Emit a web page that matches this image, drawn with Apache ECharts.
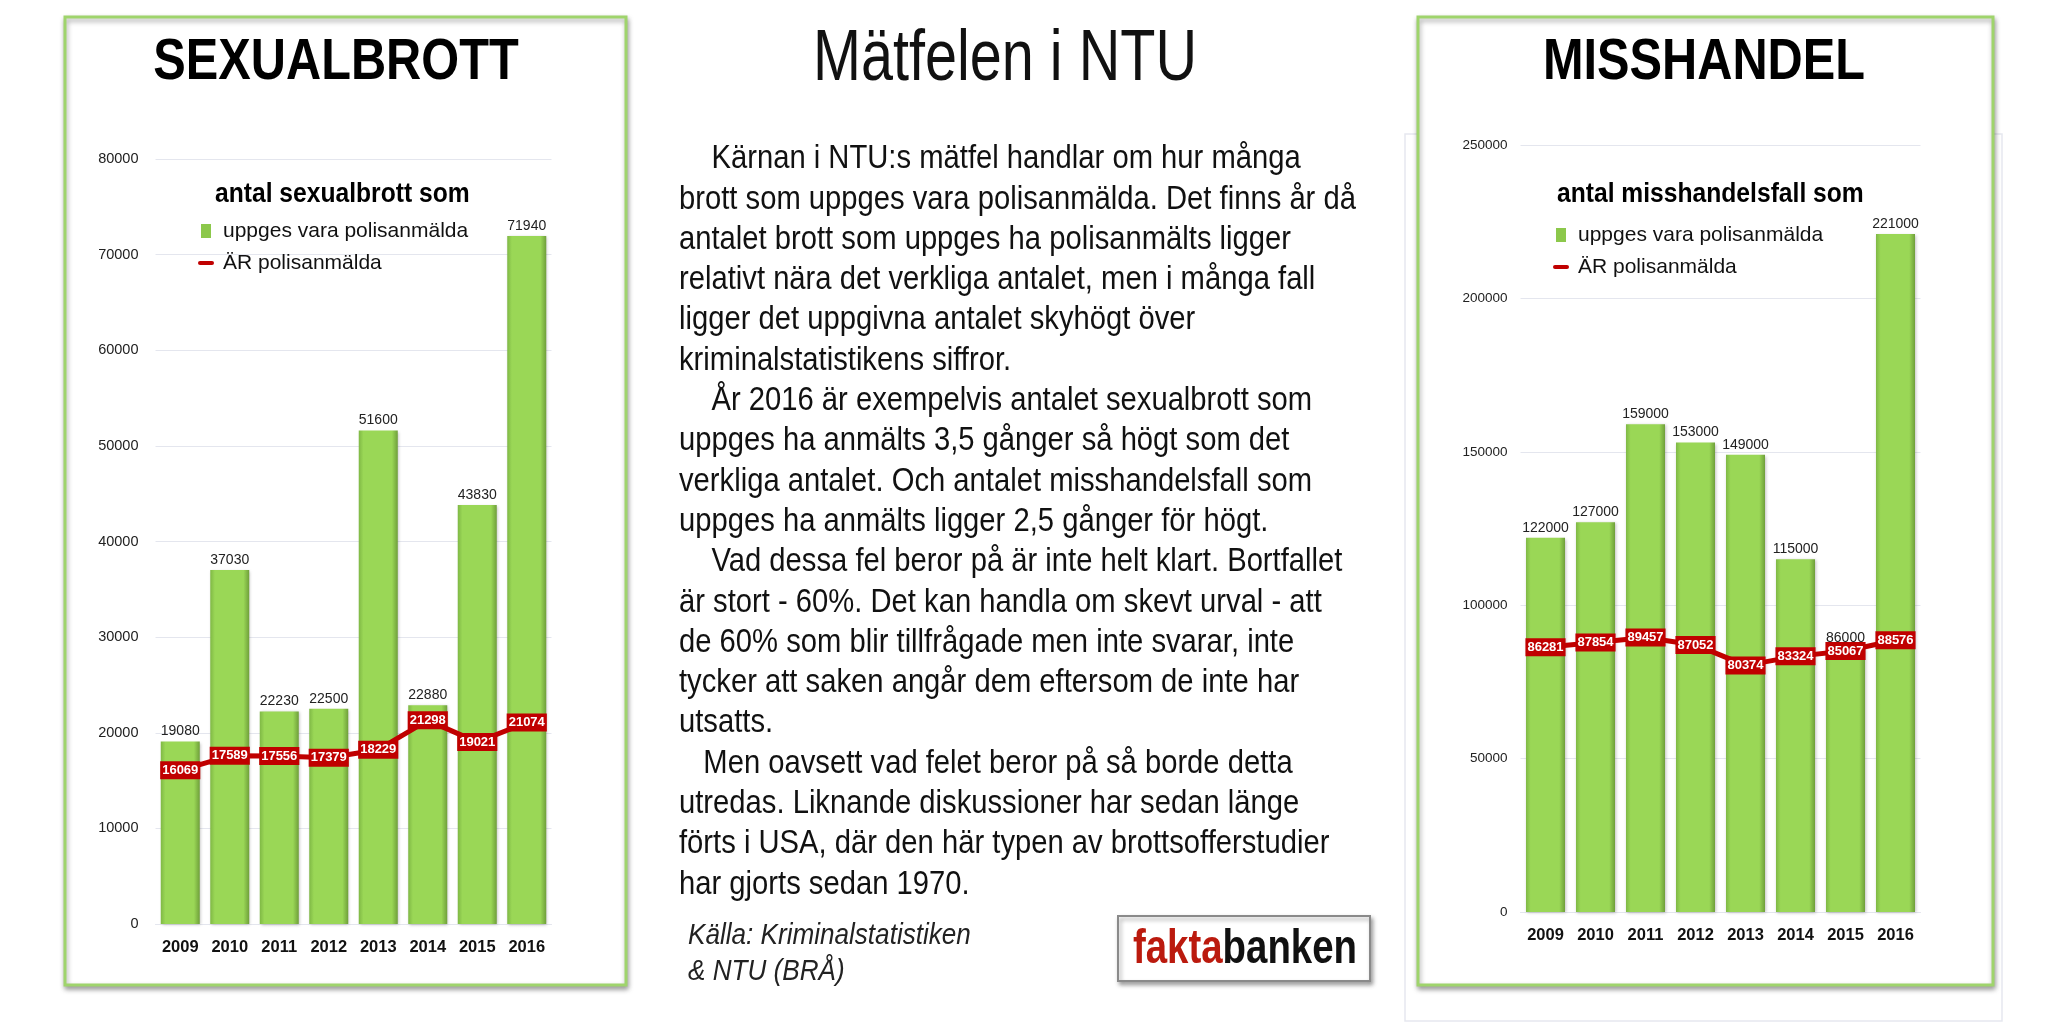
<!DOCTYPE html>
<html>
<head>
<meta charset="utf-8">
<script src="https://cdn.jsdelivr.net/npm/echarts@6/dist/echarts.min.js"></script>
<style>
html,body{margin:0;padding:0;background:#fff;}
#c{width:2048px;height:1028px;}
</style>
</head>
<body>
<div id="c"></div>
<script>
// ---- data ----
const years = ['2009','2010','2011','2012','2013','2014','2015','2016'];
const sexReported = [19080, 37030, 22230, 22500, 51600, 22880, 43830, 71940];
const sexActual = [16069, 17589, 17556, 17379, 18229, 21298, 19021, 21074];
const assaultReported = [122000, 127000, 159000, 153000, 149000, 115000, 86000, 221000];
const assaultActual = [86281, 87854, 89457, 87052, 80374, 83324, 85067, 88576];
const seriesNames = ['uppges vara polisanmälda', 'ÄR polisanmälda'];
const panelTitles = ['SEXUALBROTT', 'MISSHANDEL'];
const legendTitles = ['antal sexualbrott som', 'antal misshandelsfall som'];
const mainTitle = 'Mätfelen i NTU';
const bodyLines = [
  '    Kärnan i NTU:s mätfel handlar om hur många',
  'brott som uppges vara polisanmälda. Det finns år då',
  'antalet brott som uppges ha polisanmälts ligger',
  'relativt nära det verkliga antalet, men i många fall',
  'ligger det uppgivna antalet skyhögt över',
  'kriminalstatistikens siffror.',
  '    År 2016 är exempelvis antalet sexualbrott som',
  'uppges ha anmälts 3,5 gånger så högt som det',
  'verkliga antalet. Och antalet misshandelsfall som',
  'uppges ha anmälts ligger 2,5 gånger för högt.',
  '    Vad dessa fel beror på är inte helt klart. Bortfallet',
  'är stort - 60%. Det kan handla om skevt urval - att',
  'de 60% som blir tillfrågade men inte svarar, inte',
  'tycker att saken angår dem eftersom de inte har',
  'utsatts.',
  '   Men oavsett vad felet beror på så borde detta',
  'utredas. Liknande diskussioner har sedan länge',
  'förts i USA, där den här typen av brottsofferstudier',
  'har gjorts sedan 1970.'
];
const sourceLines = ['Källa: Kriminalstatistiken', '& NTU (BRÅ)'];

// ---- style ----
const SANS = "'Liberation Sans', Arial, sans-serif";
const RED = '#c00000';
const frameGreen = '#9fd46c';
const barGrad = new echarts.graphic.LinearGradient(0, 0, 1, 0, [
  {offset: 0, color: '#7fb845'},
  {offset: 0.12, color: '#9ad756'},
  {offset: 0.85, color: '#9ad756'},
  {offset: 1, color: '#6f9f3a'}
]);

const chart = echarts.init(document.getElementById('c'), null, {renderer: 'canvas'});

function yAxisCfg(gridIndex, max, interval, fs, margin) {
  return {
    type: 'value', gridIndex, min: 0, max, interval,
    axisLine: {show: false}, axisTick: {show: false},
    splitLine: {lineStyle: {color: '#e4e6ee', width: 1}},
    axisLabel: {fontFamily: SANS, fontSize: fs, color: '#222', margin, formatter: v => String(v)}
  };
}
function xAxisCfg(gridIndex) {
  return {
    type: 'category', gridIndex, data: years,
    axisLine: {lineStyle: {color: '#e4e6ee'}}, axisTick: {show: false},
    axisLabel: {interval: 0, fontFamily: SANS, fontWeight: 'bold', fontSize: 16.5, color: '#111', margin: 15}
  };
}
function barSeries(idx, data) {
  return {
    type: 'bar', name: seriesNames[0], xAxisIndex: idx, yAxisIndex: idx, data,
    barWidth: 39,
    itemStyle: {color: barGrad, shadowBlur: 3, shadowColor: 'rgba(0,0,0,0.25)', shadowOffsetX: 1, shadowOffsetY: 1},
    label: {show: true, position: 'top', distance: 3, fontFamily: SANS, fontSize: 14, color: '#222'}
  };
}
function lineSeries(idx, data) {
  return {
    type: 'line', name: seriesNames[1], xAxisIndex: idx, yAxisIndex: idx, data,
    symbol: 'circle', symbolSize: 2, z: 5,
    itemStyle: {color: RED},
    lineStyle: {color: RED, width: 5},
    label: {
      show: true, position: 'inside', fontFamily: SANS, fontWeight: 'bold', fontSize: 13,
      color: '#fff', backgroundColor: RED, padding: [3, 2, 2, 2]
    }
  };
}
function legendCfg(left, top) {
  return {
    left, top, orient: 'vertical', itemWidth: 16, itemHeight: 14, itemGap: 8,
    textStyle: {fontFamily: SANS, fontSize: 21, lineHeight: 24, color: '#111', padding: [0, 0, 0, 4]},
    data: [
      {name: seriesNames[0], icon: 'path://M0,0h10v14h-10z', itemStyle: {color: '#8cc84b'}},
      {name: seriesNames[1], icon: 'path://M2,0h12a2,2 0 0 1 0,4h-12a2,2 0 0 1 0,-4z', itemStyle: {color: RED}}
    ],
    selectedMode: false
  };
}
function frame(x, y, w, h) {
  return {
    type: 'rect', shape: {x, y, width: w, height: h}, z: -10,
    style: {fill: '#fff', stroke: frameGreen, lineWidth: 3, shadowBlur: 5, shadowColor: 'rgba(0,0,0,0.35)', shadowOffsetX: 1, shadowOffsetY: 3}
  };
}
function text(x, y, sx, str, opts) {
  return {type: 'text', x, y, scaleX: sx, z: 10, style: Object.assign({text: str, fill: '#000', fontFamily: SANS}, opts)};
}

const option = {
  animation: false,
  backgroundColor: '#fff',
  grid: [
    {left: 155.5, top: 159, width: 396, height: 765},
    {left: 1520.5, top: 145, width: 400, height: 767}
  ],
  xAxis: [xAxisCfg(0), xAxisCfg(1)],
  yAxis: [yAxisCfg(0, 80000, 10000, 14.5, 17), yAxisCfg(1, 250000, 50000, 13.5, 13)],
  legend: [legendCfg(193, 214), legendCfg(1548, 218)],
  series: [
    barSeries(0, sexReported), lineSeries(0, sexActual),
    barSeries(1, assaultReported), lineSeries(1, assaultActual)
  ],
  graphic: [
    {type: 'rect', shape: {x: 1405, y: 134, width: 597, height: 887}, z: -20,
     style: {fill: '#fff', stroke: '#e6e8ef', lineWidth: 1.5}},
    frame(65, 17, 561, 968),
    frame(1418, 17, 575, 968),
    text(336, 63, 0.84, panelTitles[0], {fontSize: 58, fontWeight: 'bold', align: 'center', verticalAlign: 'middle'}),
    text(1704, 63, 0.84, panelTitles[1], {fontSize: 58, fontWeight: 'bold', align: 'center', verticalAlign: 'middle'}),
    text(215, 194, 0.88, legendTitles[0], {fontSize: 28, fontWeight: 'bold', align: 'left', verticalAlign: 'middle'}),
    text(1557, 194, 0.88, legendTitles[1], {fontSize: 28, fontWeight: 'bold', align: 'left', verticalAlign: 'middle'}),
    text(1005, 60, 0.80, mainTitle, {fontSize: 72, align: 'center', verticalAlign: 'middle', fill: '#111'}),
    text(679, 139, 0.885, bodyLines.join('\n'), {fontSize: 33, lineHeight: 40.3, align: 'left', verticalAlign: 'top', fill: '#111'}),
    text(688, 918, 0.9, sourceLines.join('\n'), {fontSize: 29, lineHeight: 36, fontStyle: 'italic', align: 'left', verticalAlign: 'top', fill: '#222'}),
    {type: 'rect', shape: {x: 1118, y: 916, width: 252, height: 65}, z: 5,
     style: {fill: '#fff', stroke: '#8a8a8a', lineWidth: 2, shadowBlur: 4, shadowColor: 'rgba(0,0,0,0.35)', shadowOffsetX: 2, shadowOffsetY: 3}},
    {type: 'text', x: 1245, y: 950, scaleX: 0.8, z: 10, style: {
      text: '{a|fakta}{b|banken}', align: 'center', verticalAlign: 'middle',
      rich: {
        a: {fontFamily: SANS, fontSize: 48, fontWeight: 'bold', fill: '#bb1a0e', color: '#bb1a0e'},
        b: {fontFamily: SANS, fontSize: 48, fontWeight: 'bold', fill: '#111', color: '#111'}
      }
    }}
  ]
};
chart.setOption(option);
</script>
</body>
</html>
